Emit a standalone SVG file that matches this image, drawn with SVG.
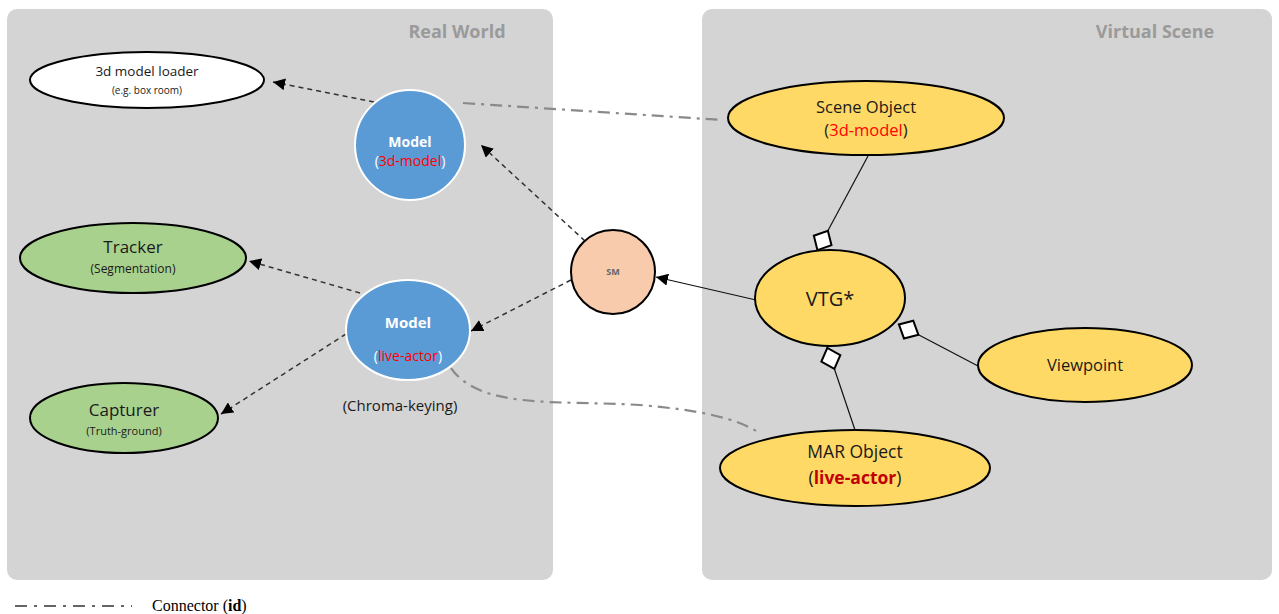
<svg xmlns="http://www.w3.org/2000/svg" width="1279" height="614" viewBox="0 0 1279 614">
<style>
text{font-family:"Open Sans","Noto Sans",sans-serif;text-anchor:middle;fill:#1a1a1a}
.panel{fill:#d4d4d4}
.title{font-size:18px;font-weight:bold;fill:#9a9a9a}
.ell{stroke:#000;stroke-width:2}
.yel{fill:#ffd966}
.grn{fill:#a9d18e}
.blue{fill:#5b9bd5;stroke:#fff;stroke-width:2}
.dash{fill:none;stroke:#333;stroke-width:1.5;stroke-dasharray:5,4}
.dd{fill:none;stroke:#8a8a8a;stroke-width:2.2;stroke-dasharray:12,6,3,6}
.solid{fill:none;stroke:#111;stroke-width:1.2}
.dmd{fill:#fff;stroke:#000;stroke-width:2}
.red{fill:#ff0000}
.dred{fill:#c00000;font-weight:bold}
.wt{fill:#fff}
</style>
<defs>
<marker id="arr" viewBox="0 0 10 10" refX="10" refY="5" markerWidth="12" markerHeight="12" markerUnits="userSpaceOnUse" orient="auto"><path d="M0,0L10,5L0,10z" fill="#000"/></marker>
<path id="diamond" class="dmd" d="M-1,0L-12,-10L-23,0L-12,10z"/>
</defs>
<rect class="panel" x="7" y="9" width="546" height="571" rx="10"/>
<rect class="panel" x="702" y="9" width="570" height="571" rx="10"/>
<text class="title" x="457" y="38">Real World</text>
<text class="title" x="1155" y="38">Virtual Scene</text>
<g id="connectors">
<path class="dash" d="M374,102L273,82" marker-end="url(#arr)"/>
<path class="dd" d="M463,103Q600,112 722,120"/>
<path class="dash" d="M585,241L481,145" marker-end="url(#arr)"/>
<path class="dash" d="M360,293L249,261" marker-end="url(#arr)"/>
<path class="dash" d="M346,334L221,414" marker-end="url(#arr)"/>
<path class="dash" d="M571,280L471,331" marker-end="url(#arr)"/>
<path class="solid" d="M756,300L656,277" marker-end="url(#arr)"/>
<path class="solid" d="M868,156L817,251"/>
<use href="#diamond" transform="translate(817,251) rotate(118.2)"/>
<path class="solid" d="M978,366L898,324"/>
<use href="#diamond" transform="translate(898,324) rotate(-152.3)"/>
<path class="solid" d="M855,430L827,347"/>
<use href="#diamond" transform="translate(827,347) rotate(-108.6)"/>
<path class="dd" d="M451,368C480,410 560,400 640,405C700,410 735,418 758,432"/>
</g>
<g id="loader"><ellipse class="ell" cx="147" cy="80" rx="117" ry="28" fill="#fff"/><text x="147" y="76" style="font-size:13.5px">3d model loader</text><text x="147" y="94" style="font-size:10px">(e.g. box room)</text></g>
<g id="model3d"><circle class="blue" cx="410" cy="145" r="55"/><text x="410" y="147" class="wt" style="font-size:14px;font-weight:bold">Model</text><text x="410" y="166" style="font-size:14px"><tspan class="wt">(</tspan><tspan class="red">3d-model</tspan><tspan class="wt">)</tspan></text></g>
<g id="tracker"><ellipse class="ell grn" cx="133" cy="258" rx="113" ry="35"/><text x="133" y="253" style="font-size:17px">Tracker</text><text x="133" y="273" style="font-size:12px">(Segmentation)</text></g>
<g id="modellive"><ellipse class="blue" cx="408" cy="330" rx="62" ry="50"/><text x="408" y="328" class="wt" style="font-size:15px;font-weight:bold">Model</text><text x="408" y="361" style="font-size:14px"><tspan class="wt">(</tspan><tspan class="red">live-actor</tspan><tspan class="wt">)</tspan></text><text x="400" y="411" style="font-size:15px">(Chroma-keying)</text></g>
<g id="capturer"><ellipse class="ell grn" cx="124" cy="418" rx="94" ry="35"/><text x="124" y="416" style="font-size:17px">Capturer</text><text x="124" y="435" style="font-size:11px">(Truth-ground)</text></g>
<g id="sm"><circle class="ell" cx="613" cy="272" r="42" fill="#f8cbad"/><text x="613" y="275" style="font-size:9px;font-weight:bold;fill:#666">SM</text></g>
<g id="sceneobj"><ellipse class="ell yel" cx="866" cy="118" rx="138" ry="37"/><text x="866" y="113" style="font-size:16.5px">Scene Object</text><text x="866" y="136" style="font-size:16.5px">(<tspan class="red">3d-model</tspan>)</text></g>
<g id="vtg"><ellipse class="ell yel" cx="830" cy="298" rx="75" ry="48"/><text x="830" y="306" style="font-size:20px">VTG*</text></g>
<g id="viewpoint"><ellipse class="ell yel" cx="1085" cy="365" rx="107" ry="37"/><text x="1085" y="371" style="font-size:16.5px">Viewpoint</text></g>
<g id="marobj"><ellipse class="ell yel" cx="855" cy="468" rx="135" ry="38"/><text x="855" y="458" style="font-size:17.5px">MAR Object</text><text x="855" y="484" style="font-size:17.5px">(<tspan class="dred">live-actor</tspan>)</text></g>
<g id="legend"><line x1="15" y1="606" x2="132" y2="606" stroke="#333" stroke-width="1.5" stroke-dasharray="12,7,3,7"/><text x="152" y="611" style="font-family:'Liberation Serif',serif;font-size:16px;text-anchor:start;fill:#000">Connector (<tspan font-weight="bold">id</tspan>)</text></g>
</svg>
